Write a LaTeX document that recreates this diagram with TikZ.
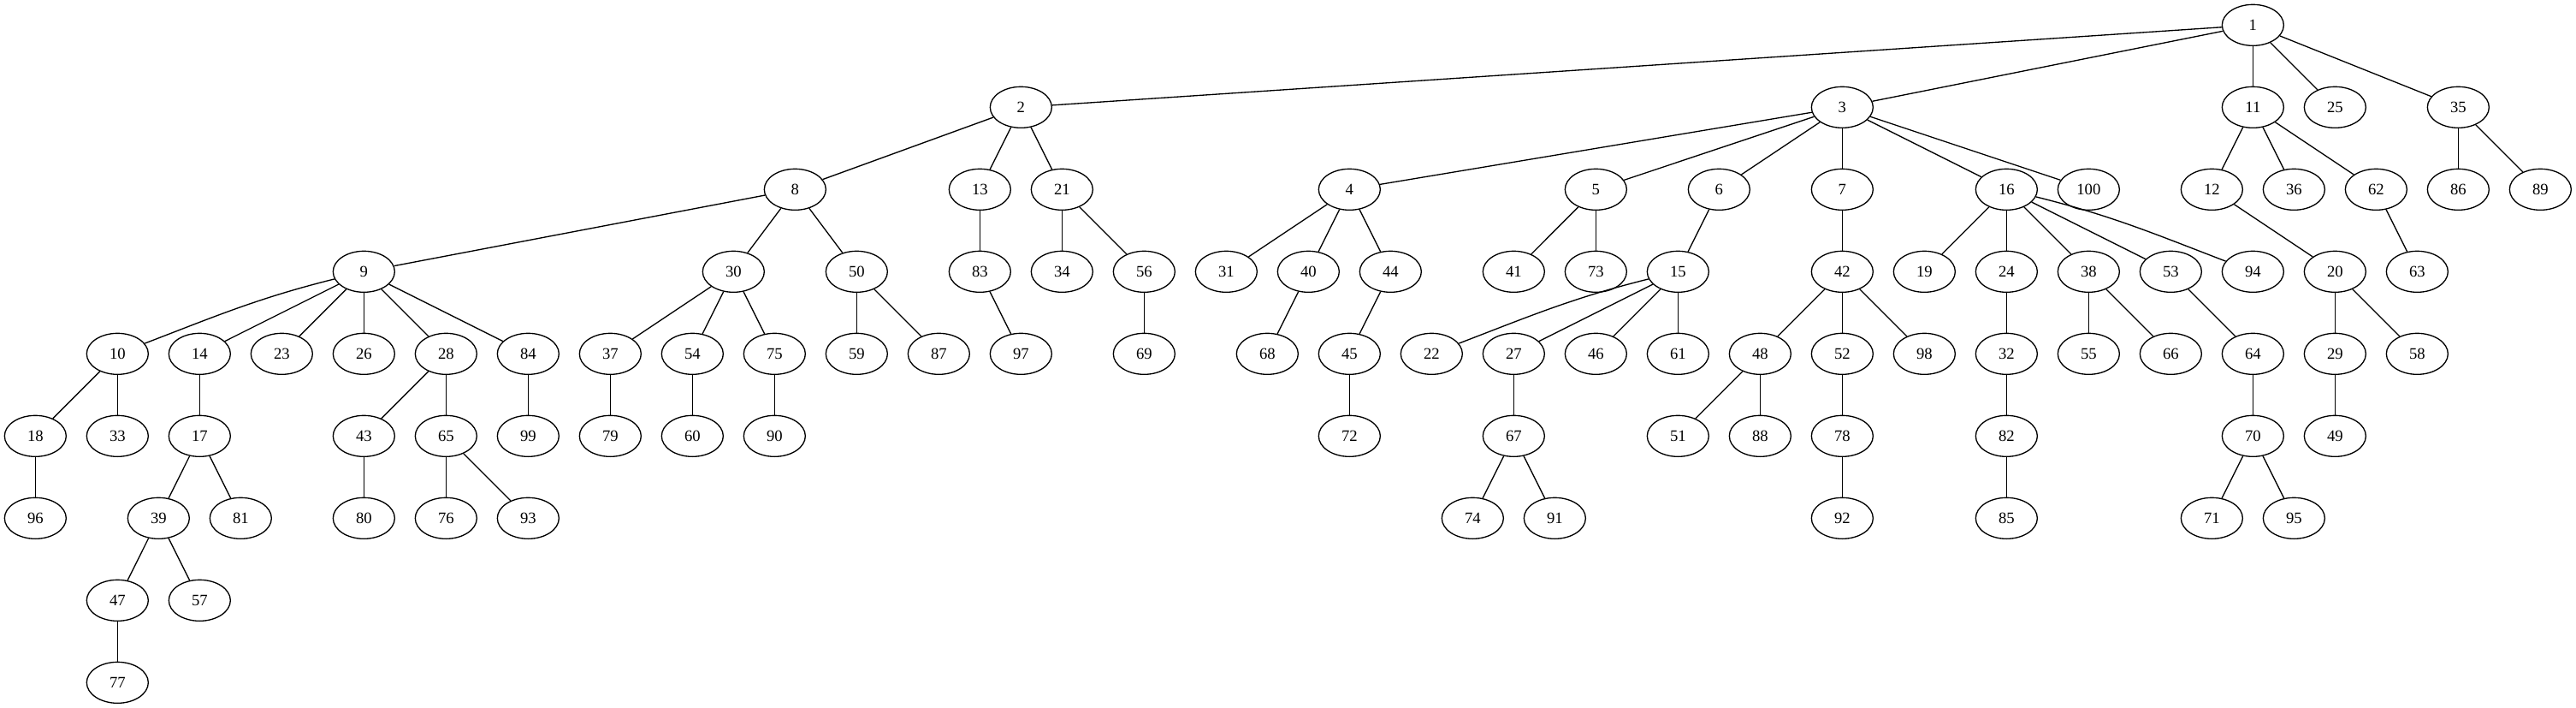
\documentclass[tikz,border=0pt]{standalone}
\usepackage{fontspec}
\setmainfont{Liberation Serif}
\usepackage{tikz}
\usetikzlibrary{shapes.geometric}
\tikzset{
    vertex/.style={draw=black, line width=1pt, ellipse, minimum width=54pt, minimum height=36pt, inner sep=0pt, font=\fontsize{14pt}{16pt}\selectfont},
    link/.style={draw=black, line width=1pt}
}
\begin{document}
\begin{tikzpicture}[x=1pt, y=-1pt]
    \useasboundingbox (0,0) rectangle (2258.25,620.25);

    \node [vertex] (N1) at (1975,22) {1};

    \node [vertex] (N2) at (895,94) {2};
    \node [vertex] (N3) at (1615,94) {3};
    \node [vertex] (N11) at (1975,94) {11};
    \node [vertex] (N25) at (2047,94) {25};
    \node [vertex] (N35) at (2155,94) {35};

    \node [vertex] (N8) at (697,166) {8};
    \node [vertex] (N13) at (859,166) {13};
    \node [vertex] (N21) at (931,166) {21};
    \node [vertex] (N4) at (1183,166) {4};
    \node [vertex] (N5) at (1399,166) {5};
    \node [vertex] (N6) at (1507,166) {6};
    \node [vertex] (N7) at (1615,166) {7};
    \node [vertex] (N16) at (1759,166) {16};
    \node [vertex] (N100) at (1831,166) {100};
    \node [vertex] (N12) at (1939,166) {12};
    \node [vertex] (N36) at (2011,166) {36};
    \node [vertex] (N62) at (2083,166) {62};
    \node [vertex] (N86) at (2155,166) {86};
    \node [vertex] (N89) at (2227,166) {89};

    \node [vertex] (N9) at (319,238) {9};
    \node [vertex] (N30) at (643,238) {30};
    \node [vertex] (N50) at (751,238) {50};
    \node [vertex] (N83) at (859,238) {83};
    \node [vertex] (N34) at (931,238) {34};
    \node [vertex] (N56) at (1003,238) {56};
    \node [vertex] (N31) at (1075,238) {31};
    \node [vertex] (N40) at (1147,238) {40};
    \node [vertex] (N44) at (1219,238) {44};
    \node [vertex] (N41) at (1327,238) {41};
    \node [vertex] (N73) at (1399,238) {73};
    \node [vertex] (N15) at (1471,238) {15};
    \node [vertex] (N42) at (1615,238) {42};
    \node [vertex] (N19) at (1687,238) {19};
    \node [vertex] (N24) at (1759,238) {24};
    \node [vertex] (N38) at (1831,238) {38};
    \node [vertex] (N53) at (1903,238) {53};
    \node [vertex] (N94) at (1975,238) {94};
    \node [vertex] (N20) at (2047,238) {20};
    \node [vertex] (N63) at (2119,238) {63};

    \node [vertex] (N10) at (103,310) {10};
    \node [vertex] (N14) at (175,310) {14};
    \node [vertex] (N23) at (247,310) {23};
    \node [vertex] (N26) at (319,310) {26};
    \node [vertex] (N28) at (391,310) {28};
    \node [vertex] (N84) at (463,310) {84};
    \node [vertex] (N37) at (535,310) {37};
    \node [vertex] (N54) at (607,310) {54};
    \node [vertex] (N75) at (679,310) {75};
    \node [vertex] (N59) at (751,310) {59};
    \node [vertex] (N87) at (823,310) {87};
    \node [vertex] (N97) at (895,310) {97};
    \node [vertex] (N69) at (1003,310) {69};
    \node [vertex] (N68) at (1111,310) {68};
    \node [vertex] (N45) at (1183,310) {45};
    \node [vertex] (N22) at (1255,310) {22};
    \node [vertex] (N27) at (1327,310) {27};
    \node [vertex] (N46) at (1399,310) {46};
    \node [vertex] (N61) at (1471,310) {61};
    \node [vertex] (N48) at (1543,310) {48};
    \node [vertex] (N52) at (1615,310) {52};
    \node [vertex] (N98) at (1687,310) {98};
    \node [vertex] (N32) at (1759,310) {32};
    \node [vertex] (N55) at (1831,310) {55};
    \node [vertex] (N66) at (1903,310) {66};
    \node [vertex] (N64) at (1975,310) {64};
    \node [vertex] (N29) at (2047,310) {29};
    \node [vertex] (N58) at (2119,310) {58};

    \node [vertex] (N18) at (31,382) {18};
    \node [vertex] (N33) at (103,382) {33};
    \node [vertex] (N17) at (175,382) {17};
    \node [vertex] (N43) at (319,382) {43};
    \node [vertex] (N65) at (391,382) {65};
    \node [vertex] (N99) at (463,382) {99};
    \node [vertex] (N79) at (535,382) {79};
    \node [vertex] (N60) at (607,382) {60};
    \node [vertex] (N90) at (679,382) {90};
    \node [vertex] (N72) at (1183,382) {72};
    \node [vertex] (N67) at (1327,382) {67};
    \node [vertex] (N51) at (1471,382) {51};
    \node [vertex] (N88) at (1543,382) {88};
    \node [vertex] (N78) at (1615,382) {78};
    \node [vertex] (N82) at (1759,382) {82};
    \node [vertex] (N70) at (1975,382) {70};
    \node [vertex] (N49) at (2047,382) {49};

    \node [vertex] (N96) at (31,454) {96};
    \node [vertex] (N39) at (139,454) {39};
    \node [vertex] (N81) at (211,454) {81};
    \node [vertex] (N80) at (319,454) {80};
    \node [vertex] (N76) at (391,454) {76};
    \node [vertex] (N93) at (463,454) {93};
    \node [vertex] (N74) at (1291,454) {74};
    \node [vertex] (N91) at (1363,454) {91};
    \node [vertex] (N92) at (1615,454) {92};
    \node [vertex] (N85) at (1759,454) {85};
    \node [vertex] (N71) at (1939,454) {71};
    \node [vertex] (N95) at (2011,454) {95};

    \node [vertex] (N47) at (103,526) {47};
    \node [vertex] (N57) at (175,526) {57};

    \node [vertex] (N77) at (103,598) {77};

    \draw [link] (N1) -- (N2);
    \draw [link] (N1) -- (N3);
    \draw [link] (N1) -- (N11);
    \draw [link] (N1) -- (N25);
    \draw [link] (N1) -- (N35);
    \draw [link] (N2) -- (N8);
    \draw [link] (N2) -- (N13);
    \draw [link] (N2) -- (N21);
    \draw [link] (N3) -- (N4);
    \draw [link] (N3) -- (N5);
    \draw [link] (N3) -- (N6);
    \draw [link] (N3) -- (N7);
    \draw [link] (N3) -- (N16);
    \draw [link] (N3) -- (N100);
    \draw [link] (N11) -- (N12);
    \draw [link] (N11) -- (N36);
    \draw [link] (N11) -- (N62);
    \draw [link] (N35) -- (N86);
    \draw [link] (N35) -- (N89);
    \draw [link] (N8) -- (N9);
    \draw [link] (N8) -- (N30);
    \draw [link] (N8) -- (N50);
    \draw [link] (N13) -- (N83);
    \draw [link] (N21) -- (N34);
    \draw [link] (N21) -- (N56);
    \draw [link] (N4) -- (N31);
    \draw [link] (N4) -- (N40);
    \draw [link] (N4) -- (N44);
    \draw [link] (N5) -- (N41);
    \draw [link] (N5) -- (N73);
    \draw [link] (N6) -- (N15);
    \draw [link] (N7) -- (N42);
    \draw [link] (N16) -- (N19);
    \draw [link] (N16) -- (N24);
    \draw [link] (N16) -- (N38);
    \draw [link] (N16) -- (N53);
    \draw [link] (N16) to [out=-14, in=159] (N94);
    \draw [link] (N12) -- (N20);
    \draw [link] (N62) -- (N63);
    \draw [link] (N9) to [out=194, in=21] (N10);
    \draw [link] (N9) -- (N14);
    \draw [link] (N9) -- (N23);
    \draw [link] (N9) -- (N26);
    \draw [link] (N9) -- (N28);
    \draw [link] (N9) -- (N84);
    \draw [link] (N30) -- (N37);
    \draw [link] (N30) -- (N54);
    \draw [link] (N30) -- (N75);
    \draw [link] (N50) -- (N59);
    \draw [link] (N50) -- (N87);
    \draw [link] (N83) -- (N97);
    \draw [link] (N56) -- (N69);
    \draw [link] (N40) -- (N68);
    \draw [link] (N44) -- (N45);
    \draw [link] (N15) to [out=194, in=21] (N22);
    \draw [link] (N15) -- (N27);
    \draw [link] (N15) -- (N46);
    \draw [link] (N15) -- (N61);
    \draw [link] (N42) -- (N48);
    \draw [link] (N42) -- (N52);
    \draw [link] (N42) -- (N98);
    \draw [link] (N24) -- (N32);
    \draw [link] (N38) -- (N55);
    \draw [link] (N38) -- (N66);
    \draw [link] (N53) -- (N64);
    \draw [link] (N20) -- (N29);
    \draw [link] (N20) -- (N58);
    \draw [link] (N10) -- (N18);
    \draw [link] (N10) -- (N33);
    \draw [link] (N14) -- (N17);
    \draw [link] (N28) -- (N43);
    \draw [link] (N28) -- (N65);
    \draw [link] (N84) -- (N99);
    \draw [link] (N37) -- (N79);
    \draw [link] (N54) -- (N60);
    \draw [link] (N75) -- (N90);
    \draw [link] (N45) -- (N72);
    \draw [link] (N27) -- (N67);
    \draw [link] (N48) -- (N51);
    \draw [link] (N48) -- (N88);
    \draw [link] (N52) -- (N78);
    \draw [link] (N32) -- (N82);
    \draw [link] (N64) -- (N70);
    \draw [link] (N29) -- (N49);
    \draw [link] (N18) -- (N96);
    \draw [link] (N17) -- (N39);
    \draw [link] (N17) -- (N81);
    \draw [link] (N43) -- (N80);
    \draw [link] (N65) -- (N76);
    \draw [link] (N65) -- (N93);
    \draw [link] (N67) -- (N74);
    \draw [link] (N67) -- (N91);
    \draw [link] (N78) -- (N92);
    \draw [link] (N82) -- (N85);
    \draw [link] (N70) -- (N71);
    \draw [link] (N70) -- (N95);
    \draw [link] (N39) -- (N47);
    \draw [link] (N39) -- (N57);
    \draw [link] (N47) -- (N77);
\end{tikzpicture}
\end{document}
